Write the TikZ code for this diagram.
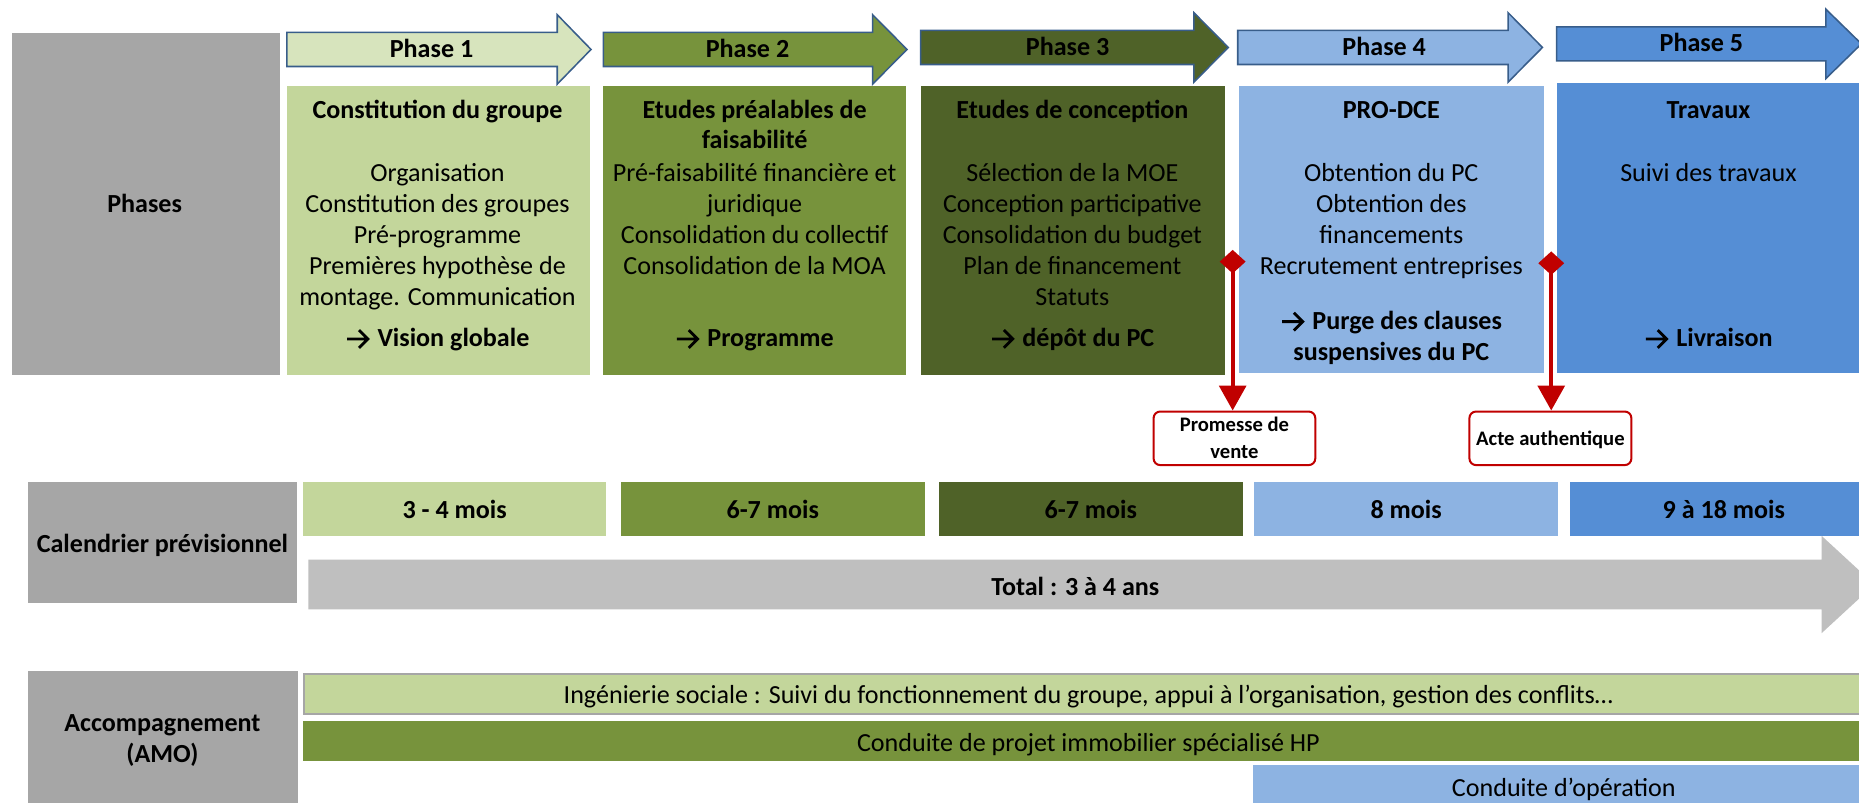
\documentclass[tikz,border=0pt]{standalone}
\usepackage{fontspec}
\setmainfont{Carlito}
\usetikzlibrary{shapes.geometric,arrows.meta}
\definecolor{gA}{HTML}{C3D69B}
\definecolor{gAa}{HTML}{D7E4BD}
\definecolor{gB}{HTML}{77933C}
\definecolor{gC}{HTML}{4F6228}
\definecolor{bA}{HTML}{8DB3E2}
\definecolor{bB}{HTML}{558ED5}
\definecolor{grA}{HTML}{A6A6A6}
\definecolor{grB}{HTML}{BFBFBF}
\definecolor{oblue}{HTML}{385D8A}
\definecolor{mred}{HTML}{C00000}
\newcounter{tn}
\newcommand\mkbox[6]{\node[rbx,#6,minimum width={#4-#2},minimum height={#5-#3}] (#1) at ({(#2+#4)/2},{(#3+#5)/2}) {};}
\newcommand\txl[4]{\stepcounter{tn}\node[#1] (t\arabic{tn}) at (#2,#3) {#4};}
\newcommand\rarr{\tikz[baseline=0pt]{\draw[line width=2.4pt,line join=miter,line cap=butt] (0pt,6.5pt) -- (16.5pt,6.5pt) (10pt,14pt) -- (17.5pt,6.5pt) -- (10pt,-1pt);}\hspace{7pt}}
\newcommand\pharrow[6]{%
  \draw[pharr,fill=#6] (#2,{#5-14.4}) -- (#3,{#5-14.4}) -- (#3,{#5-29.3}) -- (#4,#5) -- (#3,{#5+29.3}) -- (#3,{#5+14.4}) -- (#2,{#5+14.4}) -- cycle;
  \coordinate (#1) at ({(#2+#4)/2},#5);}
\tikzset{
  rbx/.style={rectangle,inner sep=0pt,outer sep=0pt,draw=none},
  tx/.style={inner sep=0pt,anchor=base,font=\fontsize{22}{26.2}\selectfont},
  tb/.style={inner sep=0pt,anchor=base,font=\fontsize{22}{26.2}\selectfont\bfseries},
  tc/.style={inner sep=0pt,anchor=base,font=\fontsize{17.4}{22.5}\selectfont\bfseries},
  pharr/.style={draw=oblue,line width=1.3pt,line join=miter},
  callout/.style={rectangle,rounded corners=5.6pt,draw=mred,line width=1.7pt,fill=white,inner sep=0pt},
  redl/.style={draw=mred,line width=3.4pt,-{Triangle[width=22.5pt,length=21pt]}},
  mk/.style={diamond,fill=mred,inner sep=0pt,minimum width=22pt,minimum height=20pt},
}
\begin{document}
\begin{tikzpicture}[x=1pt,y=-1pt]
\useasboundingbox (0,0) rectangle (1568,677);
\clip (0,0) rectangle (1568,677);

% ---------- Phases row ----------
\mkbox{gph}{10}{28.1}{236}{316}{fill=grA}
\txl{tb}{122}{179}{Phases}

\pharrow{a1}{242}{470}{498.5}{41.7}{gAa}
\pharrow{a2}{509}{736}{765}{41.7}{gB}
\pharrow{a3}{776.5}{1007}{1036}{40}{gC}
\pharrow{a4}{1044}{1272}{1301}{40}{bA}
\pharrow{a5}{1313}{1540}{1570}{37}{bB}
\txl{tb}{364}{48.4}{Phase 1}
\txl{tb}{630.5}{48.4}{Phase 2}
\txl{tb}{900.5}{46.6}{Phase 3}
\txl{tb}{1167.5}{46.6}{Phase 4}
\txl{tb}{1435}{43.6}{Phase 5}

\mkbox{b1}{242}{72.5}{497.5}{316}{fill=gA}
\mkbox{b2}{509}{72.5}{764.5}{316}{fill=gB}
\mkbox{b3}{776.5}{72.5}{1033}{316}{fill=gC}
\mkbox{b4}{1045}{72.5}{1302}{315}{fill=bA}
\mkbox{b5}{1313}{70.3}{1590}{314.3}{fill=bB}

% box 1
\txl{tb}{369}{99.8}{Constitution du groupe}
\txl{tx}{369}{153.2}{Organisation}
\txl{tx}{369}{179.4}{Constitution des groupes}
\txl{tx}{369}{205.6}{Pré-programme}
\txl{tx}{369}{231.8}{Premières hypothèse de}
\txl{tx}{369}{258.0}{montage. Communication}
\txl{tb}{369}{292.4}{\rarr Vision globale}
% box 2
\txl{tb}{636.5}{99.8}{Etudes préalables de}
\txl{tb}{636.5}{125.1}{faisabilité}
\txl{tx}{636.5}{153.2}{Pré-faisabilité financière et}
\txl{tx}{636.5}{179.4}{juridique}
\txl{tx}{636.5}{205.6}{Consolidation du collectif}
\txl{tx}{636.5}{231.8}{Consolidation de la MOA}
\txl{tb}{636.5}{292.4}{\rarr Programme}
% box 3
\txl{tb}{904.5}{99.8}{Etudes de conception}
\txl{tx}{904.5}{153.2}{Sélection de la MOE}
\txl{tx}{904.5}{179.4}{Conception participative}
\txl{tx}{904.5}{205.6}{Consolidation du budget}
\txl{tx}{904.5}{231.8}{Plan de financement}
\txl{tx}{904.5}{258.0}{Statuts}
\txl{tb}{904.5}{292.4}{\rarr dépôt du PC}
% box 4
\txl{tb}{1173.5}{99.8}{PRO-DCE}
\txl{tx}{1173.5}{153.2}{Obtention du PC}
\txl{tx}{1173.5}{179.4}{Obtention des}
\txl{tx}{1173.5}{205.6}{financements}
\txl{tx}{1173.5}{231.8}{Recrutement entreprises}
\txl{tb}{1173.5}{277.8}{\rarr Purge des clauses}
\txl{tb}{1173.5}{304.2}{suspensives du PC}
% box 5
\txl{tb}{1441}{99.8}{Travaux}
\txl{tx}{1441}{153.2}{Suivi des travaux}
\txl{tb}{1441}{292.4}{\rarr Livraison}

% ---------- milestones ----------
\node[callout,minimum width=136.4,minimum height=45.2] (c1) at (1041.2,369.7) {};
\node[callout,minimum width=136.6,minimum height=45.2] (c2) at (1307.7,369.7) {};
\node[mk] (m1) at (1039.7,220.7) {};
\node[mk] (m2) at (1308.4,222) {};
\draw[redl] (m1.center) -- (m1.center |- c1.north);
\draw[redl] (m2.center) -- (m2.center |- c2.north);
\txl{tc}{1041.2}{364.1}{Promesse de}
\txl{tc}{1041.2}{386.6}{vente}
\txl{tc}{1307.7}{375.4}{Acte authentique}

% ---------- calendar row ----------
\mkbox{gcal}{23.5}{406.6}{250.8}{509}{fill=grA}
\txl{tb}{137}{466.2}{Calendrier prévisionnel}
\mkbox{d1}{255.5}{406.6}{511}{451.8}{fill=gA}
\mkbox{d2}{523.5}{406.6}{780}{451.8}{fill=gB}
\mkbox{d3}{792}{406.6}{1048}{451.8}{fill=gC}
\mkbox{d4}{1058}{406.6}{1314}{451.8}{fill=bA}
\mkbox{d5}{1324}{406.6}{1590}{451.8}{fill=bB}
\txl{tb}{383.5}{437.2}{3 - 4 mois}
\txl{tb}{651.75}{437.2}{6-7 mois}
\txl{tb}{920}{437.2}{6-7 mois}
\txl{tb}{1186}{437.2}{8 mois}
\txl{tb}{1454}{437.2}{9 à 18 mois}

\fill[grB] (260,472) -- (1536.5,472) -- (1536.5,452) -- (1581,493) -- (1536.5,534) -- (1536.5,514) -- (260,514) -- cycle;
\coordinate (tot) at (907,493);
\txl{tb}{907}{501.9}{Total : 3 à 4 ans}

% ---------- accompagnement row ----------
\mkbox{gacc}{23.5}{566}{251}{690}{fill=grA}
\txl{tb}{137}{617.1}{Accompagnement}
\txl{tb}{137}{643.3}{(AMO)}
\mkbox{s1}{256.6}{568.8}{1590}{602.2}{fill=gA,draw=grA,line width=1.7pt}
\mkbox{s2}{255.5}{608}{1590}{641.6}{fill=gB}
\mkbox{s3}{1057}{645.2}{1590}{690}{fill=bA}
\txl{tx}{918}{593.2}{Ingénierie sociale : Suivi du fonctionnement du groupe, appui à l’organisation, gestion des conflits…}
\txl{tx}{918}{634}{Conduite de projet immobilier spécialisé HP}
\txl{tx}{1319}{672}{Conduite d’opération}
\end{tikzpicture}
\end{document}
